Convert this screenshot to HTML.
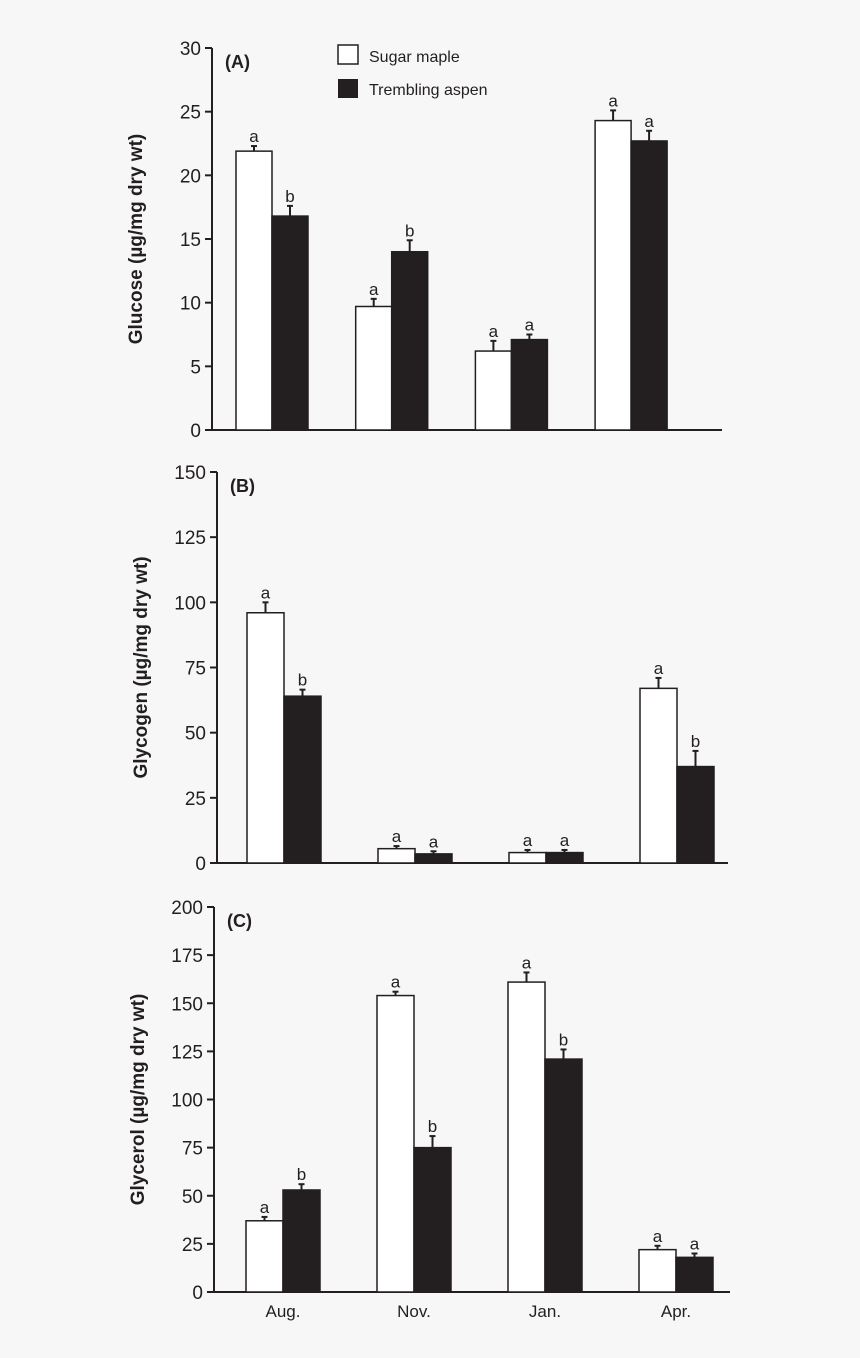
<!DOCTYPE html>
<html><head><meta charset="utf-8"><style>
html,body{margin:0;padding:0;background:#f7f7f7;}
svg{display:block;font-family:"Liberation Sans",Arial,sans-serif;}
</style></head><body>
<svg id="chart" width="860" height="1358" viewBox="0 0 860 1358"></svg>
<script>
const months = ["Aug.","Nov.","Jan.","Apr."];
const glucoseMaple = [21.9, 9.7, 6.2, 24.3];
const glucoseAspen = [16.8, 14.0, 7.1, 22.7];
const glucoseMapleErr = [0.4, 0.6, 0.8, 0.8];
const glucoseAspenErr = [0.8, 0.9, 0.4, 0.8];
const glucoseMapleLetters = ["a","a","a","a"];
const glucoseAspenLetters = ["b","b","a","a"];
const glucoseTicks = [0,5,10,15,20,25,30];
const glycogenMaple = [96, 5.5, 4, 67];
const glycogenAspen = [64, 3.5, 4, 37];
const glycogenMapleErr = [4, 1, 1, 4];
const glycogenAspenErr = [2.5, 1, 1, 6];
const glycogenMapleLetters = ["a","a","a","a"];
const glycogenAspenLetters = ["b","a","a","b"];
const glycogenTicks = [0,25,50,75,100,125,150];
const glycerolMaple = [37, 154, 161, 22];
const glycerolAspen = [53, 75, 121, 18];
const glycerolMapleErr = [2, 2, 5, 2];
const glycerolAspenErr = [3, 6, 5, 2];
const glycerolMapleLetters = ["a","a","a","a"];
const glycerolAspenLetters = ["b","b","b","a"];
const glycerolTicks = [0,25,50,75,100,125,150,175,200];

const NS="http://www.w3.org/2000/svg";
const svg=document.getElementById('chart');
function mk(tag,attrs,parent,text){const e=document.createElementNS(NS,tag);for(const k in attrs)e.setAttribute(k,attrs[k]);if(text!==undefined)e.textContent=text;(parent||svg).appendChild(e);return e;}

function panel(p){
  const g=mk('g',{});
  
  
  const y=v=>p.y0-(v/p.max)*(p.y0-p.yTop);
  const cx=i=>p.c0+i*p.step;
  const ya=mk('line',{x1:p.ax,y1:p.yTop,x2:p.ax,y2:p.y0,stroke:'#231f20','stroke-width':2},g);
  
  
  const xa=mk('line',{x1:p.ax,y1:p.y0,x2:p.xEnd,y2:p.y0,stroke:'#231f20','stroke-width':2},g);
  
  
  p.ticks.forEach(t=>{
    mk('line',{x1:p.ax-7,y1:y(t),x2:p.ax,y2:y(t),stroke:'#231f20','stroke-width':2},g);
    const tl=mk('text',{x:p.ax-11,y:y(t)+7,'text-anchor':'end','font-size':19,fill:'#231f20'},g,String(t));
    
    
  });
  const yt=mk('text',{transform:`translate(${p.ax-70},${(p.yTop+p.y0)/2}) rotate(-90)`,'text-anchor':'middle','font-size':19,'font-weight':'bold',fill:'#231f20'},g,p.title);
  
  
  const pl=mk('text',{x:p.ax+13,y:p.yTop+20,'font-size':18,'font-weight':'bold',fill:'#231f20'},g,p.label);
  
  
  const series=[[p.maple,p.mErr,p.mLet,'#ffffff',-1],[p.aspen,p.aErr,p.aLet,'#231f20',0]];
  months.forEach((m,i)=>{
    series.forEach(([vals,errs,lets,fill,off],si)=>{
      const x=cx(i)+off*p.bw;
      const top=y(vals[i]);
      const r=mk('rect',{x:x,y:top,width:p.bw,height:p.y0-top,fill:fill,stroke:'#231f20','stroke-width':1.5},g);
      
      
      const ex=x+p.bw/2, et=y(vals[i]+errs[i]);
      mk('line',{x1:ex,y1:top,x2:ex,y2:et,stroke:'#231f20','stroke-width':2},g);
      mk('line',{x1:ex-3,y1:et,x2:ex+3,y2:et,stroke:'#231f20','stroke-width':2},g);
      const lt=mk('text',{x:ex,y:et-4,'text-anchor':'middle','font-size':17,fill:'#231f20'},g,lets[i]);
      
      
    });
    if(p.showX){
      const xl=mk('text',{x:cx(i),y:p.y0+25,'text-anchor':'middle','font-size':17,fill:'#231f20'},g,m);
      
      
    }
  });
}

panel({name:'panel-a-glucose',ax:212,xEnd:722,yTop:48,y0:430,max:30,c0:272,step:119.7,bw:36,ticks:glucoseTicks,title:'Glucose (µg/mg dry wt)',label:'(A)',maple:glucoseMaple,aspen:glucoseAspen,mErr:glucoseMapleErr,aErr:glucoseAspenErr,mLet:glucoseMapleLetters,aLet:glucoseAspenLetters,showX:false});
panel({name:'panel-b-glycogen',ax:217,xEnd:728,yTop:472,y0:863,max:150,c0:284,step:131,bw:37,ticks:glycogenTicks,title:'Glycogen (µg/mg dry wt)',label:'(B)',maple:glycogenMaple,aspen:glycogenAspen,mErr:glycogenMapleErr,aErr:glycogenAspenErr,mLet:glycogenMapleLetters,aLet:glycogenAspenLetters,showX:false});
panel({name:'panel-c-glycerol',ax:214,xEnd:730,yTop:907,y0:1292,max:200,c0:283,step:131,bw:37,ticks:glycerolTicks,title:'Glycerol (µg/mg dry wt)',label:'(C)',maple:glycerolMaple,aspen:glycerolAspen,mErr:glycerolMapleErr,aErr:glycerolAspenErr,mLet:glycerolMapleLetters,aLet:glycerolAspenLetters,showX:true});

const lg=mk('g',{});


mk('rect',{x:338,y:45,width:20,height:19,fill:'#fff',stroke:'#231f20','stroke-width':1.5},lg);
const l1=mk('text',{x:369,y:62,'font-size':16,fill:'#231f20'},lg,'Sugar maple');


mk('rect',{x:338,y:79,width:20,height:19,fill:'#231f20'},lg);
const l2=mk('text',{x:369,y:95,'font-size':16,fill:'#231f20'},lg,'Trembling aspen');


</script>
</body></html>
